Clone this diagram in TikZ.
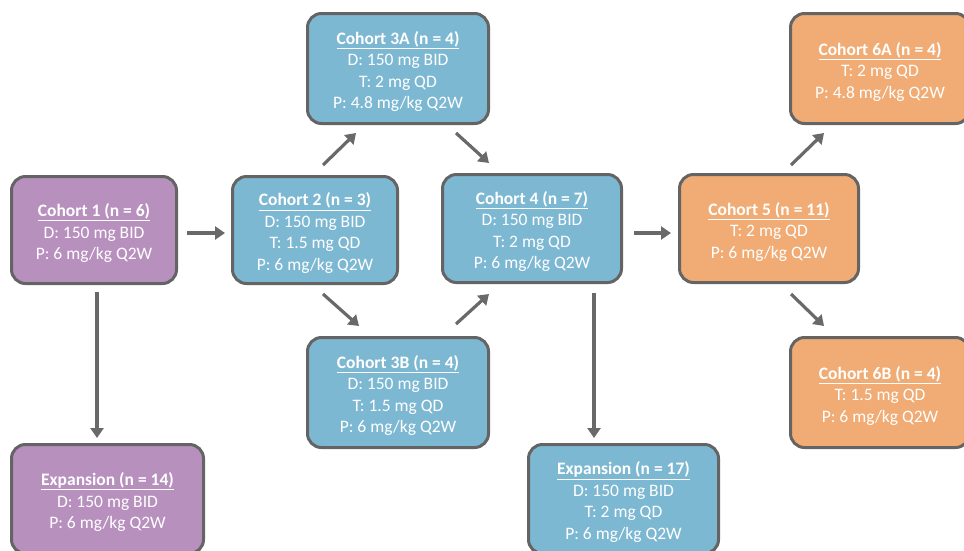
\documentclass[tikz,border=0pt]{standalone}
\usepackage{fontspec}
\setmainfont{Carlito}
\usetikzlibrary{arrows.meta,calc}
\definecolor{purp}{RGB}{183,144,190}
\definecolor{blu}{RGB}{125,184,211}
\definecolor{orng}{RGB}{240,172,116}
\definecolor{edge}{RGB}{100,100,100}
\definecolor{arr}{RGB}{105,105,105}
\tikzset{
  box/.style={draw=edge, line width=3pt, rounded corners=14pt, text=white,
    align=center, font=\fontsize{17.5}{21.5}\selectfont, inner sep=0pt},
  conn/.style={draw=arr, line width=3.2pt, -{Triangle[length=10pt,width=13pt]}},
}
\newcommand{\hdr}[1]{\rule{0pt}{19pt}\underline{\textbf{#1}}}
\begin{document}
\begin{tikzpicture}[x=1pt,y=-1pt]
\useasboundingbox (0,0) rectangle (964,550);
\node[box, fill=purp, minimum width=165, minimum height=107] (c1) at (94,230)
  {\hdr{Cohort 1 (n = 6)}\\D: 150 mg BID\\P: 6 mg/kg Q2W};
\node[box, fill=blu, minimum width=165, minimum height=107] (c2) at (315,230)
  {\hdr{Cohort 2 (n = 3)}\\D: 150 mg BID\\T: 1.5 mg QD\\P: 6 mg/kg Q2W};
\node[box, fill=blu, minimum width=181, minimum height=110] (c3a) at (398,68.5)
  {\hdr{Cohort 3A (n = 4)}\\D: 150 mg BID\\T: 2 mg QD\\P: 4.8 mg/kg Q2W};
\node[box, fill=blu, minimum width=181, minimum height=110] (c3b) at (398,392.5)
  {\hdr{Cohort 3B (n = 4)}\\D: 150 mg BID\\T: 1.5 mg QD\\P: 6 mg/kg Q2W};
\node[box, fill=blu, minimum width=179, minimum height=108] (c4) at (532,228.5)
  {\hdr{Cohort 4 (n = 7)}\\D: 150 mg BID\\T: 2 mg QD\\P: 6 mg/kg Q2W};
\node[box, fill=orng, minimum width=179, minimum height=108] (c5) at (769,228.5)
  {\hdr{Cohort 5 (n = 11)}\\T: 2 mg QD\\P: 6 mg/kg Q2W};
\node[box, fill=orng, minimum width=179, minimum height=110] (c6a) at (880,68.5)
  {\hdr{Cohort 6A (n = 4)}\\T: 2 mg QD\\P: 4.8 mg/kg Q2W};
\node[box, fill=orng, minimum width=179, minimum height=110] (c6b) at (880,392.5)
  {\hdr{Cohort 6B (n = 4)}\\T: 1.5 mg QD\\P: 6 mg/kg Q2W};
\node[box, fill=purp, minimum width=192, minimum height=109] (e14) at (107.5,499)
  {\hdr{Expansion (n = 14)}\\D: 150 mg BID\\P: 6 mg/kg Q2W};
\node[box, fill=blu, minimum width=190, minimum height=109] (e17) at (623.5,499)
  {\hdr{Expansion (n = 17)}\\D: 150 mg BID\\T: 2 mg QD\\P: 6 mg/kg Q2W};

\draw[conn] ($(c1.east)+(9,3)$) -- ($(c2.west)+(-6,3)$);
\draw[conn] ($(c2.north)+(8,-10)$) -- ($(c3a.south)+(-42,8)$);
\draw[conn] ($(c3a.south)+(58,8)$) -- ($(c4.north)+(-43,-10)$);
\draw[conn] ($(c2.south)+(8,9)$) -- ($(c3b.north)+(-39,-10)$);
\draw[conn] ($(c3b.north)+(58,-12)$) -- ($(c4.south)+(-43,10)$);
\draw[conn] ($(c4.east)+(11,4.5)$) -- ($(c5.west)+(-7,4.5)$);
\draw[conn] ($(c5.north)+(22,-8)$) -- ($(c6a.south)+(-56,8)$);
\draw[conn] ($(c5.south)+(22,10)$) -- ($(c6b.north)+(-56,-10)$);
\draw[conn] ($(c1.south)+(3,7)$) -- ($(e14.north)+(-10.5,-5)$);
\draw[conn] ($(c4.south)+(62,9)$) -- ($(e17.north)+(-29.5,-5)$);
\end{tikzpicture}
\end{document}
